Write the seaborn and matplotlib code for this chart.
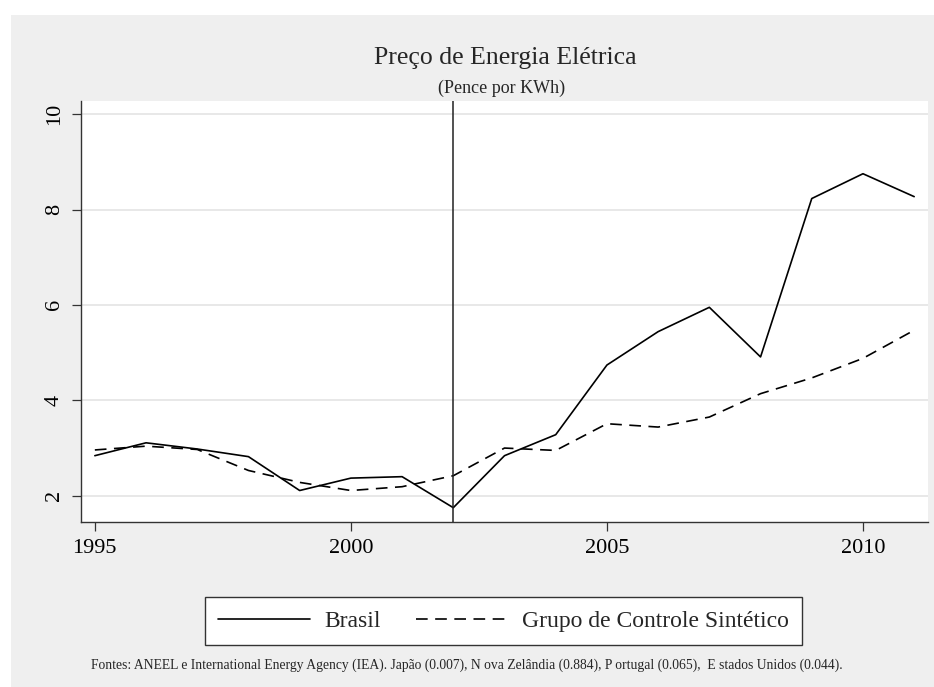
import matplotlib
matplotlib.use("Agg")
import matplotlib.pyplot as plt
import pandas as pd
import seaborn as sb
from matplotlib.lines import Line2D
from matplotlib.patches import Rectangle

# dados (pence por KWh)
anos = list(range(1995, 2012))
brasil = [2.84, 3.11, 2.98, 2.82, 2.11, 2.37, 2.40, 1.75, 2.84, 3.28,
          4.74, 5.44, 5.95, 4.91, 8.23, 8.75, 8.27]
sintetico = [2.96, 3.04, 2.97, 2.53, 2.28, 2.11, 2.19, 2.42, 3.00, 2.95,
             3.51, 3.44, 3.65, 4.14, 4.47, 4.88, 5.47]
series = ["Brasil", "Grupo de Controle Sintético"]
ano_tratamento = 2002
x_ticks = [1995, 2000, 2005, 2010]
y_ticks = [2, 4, 6, 8, 10]

titulo = "Preço de Energia Elétrica"
subtitulo = "(Pence por KWh)"
nota = ("Fontes: ANEEL e International Energy Agency (IEA). Japão (0.007), N ova Zelândia (0.884), "
        "P ortugal (0.065),  E stados Unidos (0.044).")

df = pd.DataFrame({
    "ano": anos * 2,
    "preco": brasil + sintetico,
    "serie": [series[0]] * len(anos) + [series[1]] * len(anos),
})

sb.set_style("white")
plt.rcParams["font.family"] = ["Liberation Serif", "DejaVu Serif"]

cinza = "#efefef"
tracejado = (7, 4.5)
fig = plt.figure(figsize=(9.34, 6.87), dpi=100, facecolor="white")
W, H = 934, 687
fig.patches.append(Rectangle((11 / W, 0), 1, 1 - 15 / H, transform=fig.transFigure,
                             facecolor=cinza, edgecolor="none", zorder=-10))

ax = fig.add_axes([80.5 / W, 1 - 522 / H, (928 - 80.5) / W, (522 - 100.5) / H])
ax.set_facecolor("white")

tracos = {series[0]: "", series[1]: tracejado}
sb.lineplot(data=df, x="ano", y="preco", hue="serie", style="serie",
            palette={s: "black" for s in series}, dashes=tracos,
            linewidth=1.2, legend=False, ax=ax)
ax.axvline(ano_tratamento, color="#222222", linewidth=1.1, zorder=3)

ax.set_xlim(1994.72, 2011.27)
ax.set_ylim(1.45, 10.285)
ax.set_xticks(x_ticks)
ax.set_yticks(y_ticks)
ax.set_xlabel("")
ax.set_ylabel("")
ax.grid(axis="y", color="#e6e6e6", linewidth=1.3)
ax.set_axisbelow(True)
for lado in ["top", "right"]:
    ax.spines[lado].set_visible(False)
for lado in ["left", "bottom"]:
    ax.spines[lado].set_color("#333333")
    ax.spines[lado].set_linewidth(1.0)
ax.tick_params(axis="both", direction="out", length=6.5, width=0.9, color="#333333",
               labelsize=16, labelcolor="black", pad=5.5, bottom=True, left=True)
for lbl in ax.get_yticklabels():
    lbl.set_rotation(90)
    lbl.set_va("center")

fig.text(505 / W, 1 - 58 / H, titulo, ha="center", va="center", fontsize=18.5)
fig.text(502 / W, 1 - 88 / H, subtitulo, ha="center", va="center", fontsize=13)

handles = [Line2D([], [], color="black", linewidth=1.2, linestyle="-"),
           Line2D([], [], color="black", linewidth=1.2, linestyle=(0, tracejado))]
leg = fig.legend(handles, series, loc="center", bbox_to_anchor=(503.5 / W, 1 - 621 / H),
                 ncol=2, fontsize=17, frameon=True, fancybox=False, framealpha=1,
                 edgecolor="#333333", facecolor="white", handlelength=3.9,
                 handletextpad=0.6, columnspacing=1.5, borderpad=0.55)
leg.get_frame().set_linewidth(1.0)

fig.text(467 / W, 1 - 665 / H, nota, ha="center", va="center", fontsize=9.8)

fig.savefig("out.png", dpi=100, facecolor="white")
